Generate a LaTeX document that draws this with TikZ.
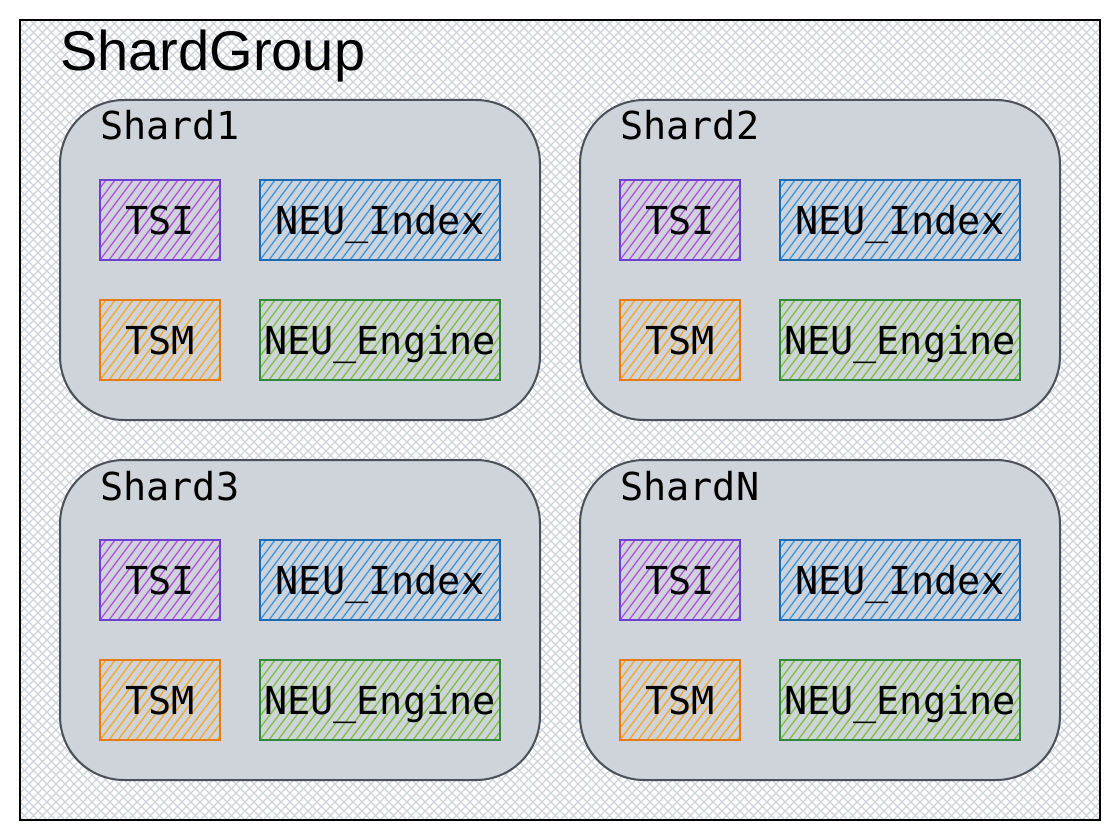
\documentclass[tikz,border=0pt]{standalone}
\usepackage{fontspec}
\setmainfont{Liberation Sans}
\newfontfamily\monofont{DejaVu Sans Mono}
\definecolor{bgline}{HTML}{CED3DB}
\definecolor{shardfill}{HTML}{CFD3DA}
\definecolor{shardline}{HTML}{4B5058}
\definecolor{tsiline}{HTML}{6B3FCF}
\definecolor{tsihatch}{HTML}{B44EE0}
\definecolor{idxline}{HTML}{1A68B0}
\definecolor{idxhatch}{HTML}{3A95E0}
\definecolor{tsmline}{HTML}{E47A10}
\definecolor{tsmhatch}{HTML}{F5A623}
\definecolor{engline}{HTML}{2E8A3A}
\definecolor{enghatch}{HTML}{7EC13C}
\tikzset{
  groupbox/.style={draw=black, line width=2pt, fill=white,
    path picture={
      \foreach \k in {-90,...,121}
        \draw[bgline, line width=1.3pt] ([xshift=\k*9pt]path picture bounding box.south west) -- ++(820pt,820pt);
      \foreach \k in {0,...,210}
        \draw[bgline, line width=1.3pt] ([xshift=\k*9pt]path picture bounding box.south west) -- ++(-820pt,820pt);
    },
    minimum width=1080pt, minimum height=800pt, inner sep=0pt},
  shardbox/.style={draw=shardline, line width=2pt, fill=shardfill, rounded corners=64pt,
    minimum width=480pt, minimum height=320pt, inner sep=0pt},
  shardlabel/.style={font=\monofont\fontsize{38.5}{40}\selectfont, inner sep=0pt},
  itembox/.style={line width=1.8pt, font=\monofont\fontsize{38.5}{40}\selectfont,
    minimum height=80pt, inner sep=0pt, text height=28pt, text depth=0pt},
  hatchfill/.style={path picture={
      \foreach \k in {-10,...,28}
        \draw[#1, line width=1.3pt] ([xshift=\k*9pt]path picture bounding box.south west) -- ++(67.5pt,90pt);
    }},
  tsibox/.style={itembox, hatchfill=tsihatch, draw=tsiline, minimum width=120pt},
  idxbox/.style={itembox, hatchfill=idxhatch, draw=idxline, minimum width=240pt},
  tsmbox/.style={itembox, hatchfill=tsmhatch, draw=tsmline, minimum width=120pt},
  engbox/.style={itembox, hatchfill=enghatch, draw=engline, minimum width=240pt},
}
\newcommand\drawshard[4]{%
  \node[shardbox] (#1) at (#2+240,#3+160) {};
  \node[shardlabel, anchor=base west] (#1lbl) at (#2+40,#3+40) {#4};
  \node[tsibox] (#1tsi) at (#2+100,#3+120) {TSI};
  \node[idxbox] (#1idx) at (#2+320,#3+120) {NEU\_Index};
  \node[tsmbox] (#1tsm) at (#2+100,#3+240) {TSM};
  \node[engbox] (#1eng) at (#2+320,#3+240) {NEU\_Engine};
}
\begin{document}
\begin{tikzpicture}[x=1pt,y=-1pt]
\useasboundingbox (0,0) rectangle (1120,840);
\node[groupbox] (group) at (560,420) {};
\node[anchor=base west, inner sep=0pt, font=\fontsize{56}{60}\selectfont] (grouplbl) at (60,71) {ShardGroup};
\drawshard{s1}{60}{100}{Shard1}
\drawshard{s2}{580}{100}{Shard2}
\drawshard{s3}{60}{460}{Shard3}
\drawshard{sn}{580}{460}{ShardN}
\end{tikzpicture}
\end{document}
